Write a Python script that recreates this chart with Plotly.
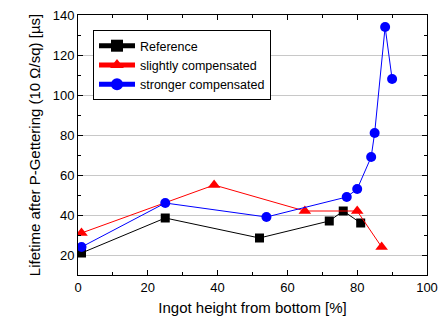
import plotly.graph_objects as go

ref_x = [1, 25, 52, 72, 76, 81]
ref_y = [21, 38.5, 28.5, 37, 42, 36]

slight_x = [1, 39, 65, 80, 87]
slight_y = [31, 55, 42, 42, 24]

strong_x = [1, 25, 54, 77, 80, 84, 85, 88, 90]
strong_y = [24, 46, 39, 49, 53, 69, 81, 134, 108]

fig = go.Figure()
fig.add_trace(go.Scatter(x=ref_x, y=ref_y, mode="lines+markers", name="Reference",
                         line=dict(color="black", width=1),
                         marker=dict(symbol="square", size=9, color="black")))
fig.add_trace(go.Scatter(x=slight_x, y=slight_y, mode="lines+markers", name="slightly compensated",
                         line=dict(color="#ff0000", width=1),
                         marker=dict(symbol="triangle-up", size=11, color="#ff0000")))
fig.add_trace(go.Scatter(x=strong_x, y=strong_y, mode="lines+markers", name="stronger compensated",
                         line=dict(color="#0000ff", width=1),
                         marker=dict(symbol="circle", size=10, color="#0000ff")))

axis_common = dict(showline=True, linecolor="black", linewidth=1, mirror="ticks",
                   ticks="inside", ticklen=5, tickcolor="black", zeroline=False,
                   automargin=False,
                   tickfont=dict(size=13, color="black"))
fig.update_xaxes(range=[0, 100], tick0=0, dtick=20, showgrid=False,
                 minor=dict(dtick=10, ticks="inside", ticklen=3, tickcolor="black"),
                 title=dict(text="Ingot height from bottom [%]", font=dict(size=15, color="black"), standoff=8),
                 **axis_common)
fig.update_yaxes(range=[10, 140], tick0=0, dtick=20, showgrid=True, gridcolor="#c8c8c8", gridwidth=1,
                 minor=dict(dtick=10, ticks="inside", ticklen=3, tickcolor="black", showgrid=False),
                 title=dict(text="Lifetime after P-Gettering (10 Ω/sq) [µs]", font=dict(size=15, color="black"), standoff=8),
                 **axis_common)

fig.update_layout(width=440, height=325, margin=dict(l=78, r=13, t=15, b=50),
                  paper_bgcolor="white", plot_bgcolor="white",
                  font=dict(family="Arial, Liberation Sans, sans-serif", size=13, color="black"),
                  legend=dict(x=0.043, y=0.942, xanchor="left", yanchor="top",
                              bgcolor="white", bordercolor="black", borderwidth=1,
                              font=dict(size=12.5), tracegroupgap=0, itemsizing="constant",
                              itemwidth=36),
                  showlegend=True)

fig.write_html("out.html", config={"displayModeBar": False},
               post_script="document.body.style.margin='0';")
